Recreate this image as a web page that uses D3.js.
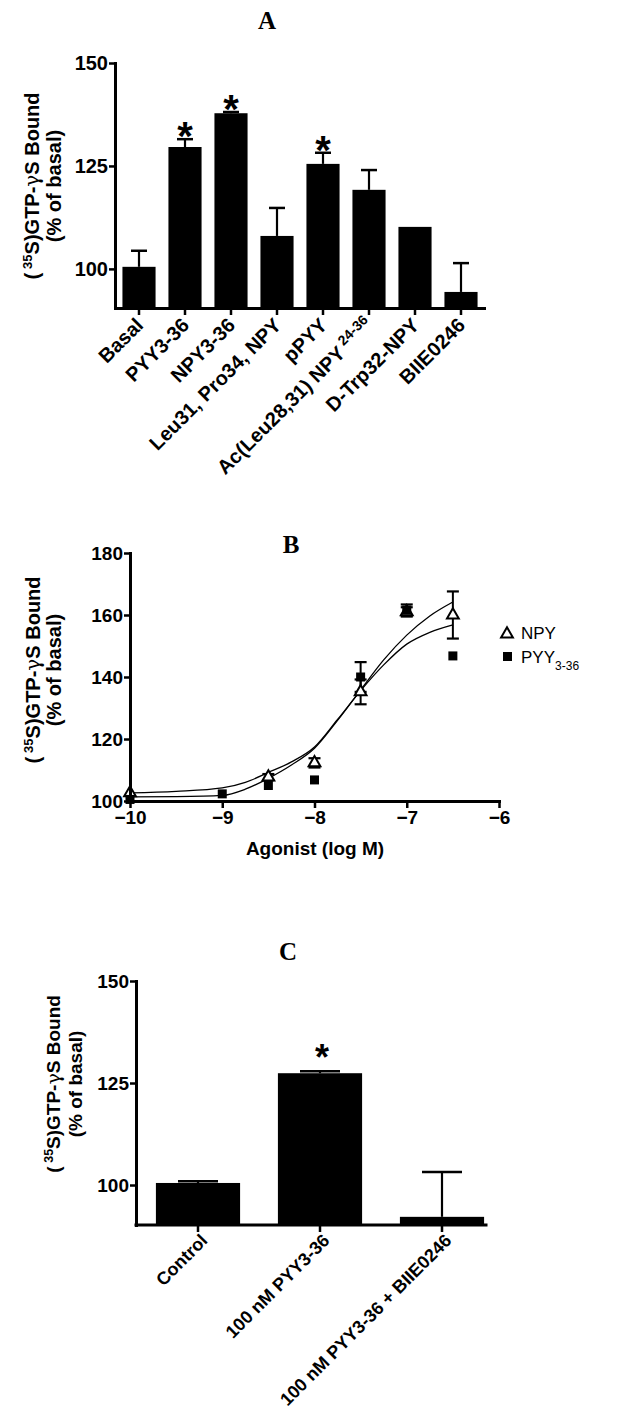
<!DOCTYPE html>
<html><head><meta charset="utf-8">
<script src="https://cdn.jsdelivr.net/npm/d3@7"></script>
<style>
html,body{margin:0;padding:0;background:#fff;}
svg{display:block;}
text{font-family:"Liberation Sans",Arial,sans-serif;font-weight:bold;fill:#000;}
</style></head>
<body>
<svg id="chart" width="619" height="1424"></svg>
<script>
// ---------- Panel A data ----------
const aCategories = ["Basal","PYY3-36","NPY3-36","Leu31, Pro34, NPY","pPYY","Ac(Leu28,31) NPY","D-Trp32-NPY","BIIE0246"];
const aValues = [100.5, 129.6, 137.8, 108.0, 125.5, 119.2, 110.2, 94.4];
const aErrors = [3.9, 1.9, 0.3, 6.8, 2.7, 4.8, 0, 7.0];
const aSignificant = [false, true, true, false, true, false, false, false];
const aTicks = [100, 125, 150];

// ---------- Panel B data ----------
const bTicksX = [-10, -9, -8, -7, -6];
const bTicksY = [100, 120, 140, 160, 180];
const npyX = [-10, -8.5, -8, -7.5, -7, -6.5];
const npyY = [102.6, 107.7, 112.3, 135.2, 161.0, 160.0];
const npyErr = [0.8, 1.0, 1.5, 4.0, 1.5, 7.6];
const pyyX = [-10, -9, -8.5, -8, -7.5, -7, -6.5];
const pyyY = [100.5, 102.3, 105.0, 106.8, 140.0, 161.6, 146.8];
const pyyErr = [0.5, 0.5, 0.6, 0.6, 4.8, 1.8, 0.8];
const fitX = [-10, -9.5, -9, -8.75, -8.5, -8.25, -8, -7.75, -7.5, -7.25, -7, -6.75, -6.5];
const npyFit = [101.3, 101.4, 101.8, 103.8, 107.3, 111.6, 117.0, 126.0, 135.8, 145.5, 153.5, 159.7, 164.2];
const pyyFit = [102.6, 103.1, 104.2, 106.0, 109.2, 112.6, 117.4, 126.3, 135.6, 143.9, 150.6, 154.4, 156.8];

// ---------- Panel C data ----------
const cCategories = ["Control","100 nM PYY3-36","100 nM PYY3-36 + BIIE0246"];
const cValues = [100.5, 127.4, 92.2];
const cErrors = [0.4, 0.5, 11.0];
const cSignificant = [false, true, false];
const cTicks = [100, 125, 150];

const svg = d3.select("#chart");
svg.append("rect").attr("width",619).attr("height",1424).attr("fill","#fff");

function styleAxis(g){
  g.selectAll(".domain").attr("stroke","#000").attr("stroke-width",3).attr("stroke-linecap","square");
  g.selectAll(".tick line").attr("stroke","#000").attr("stroke-width",2.5);
  g.selectAll(".tick text").attr("fill","#000").style("font-family","'Liberation Sans',Arial,sans-serif").style("font-weight","bold");
}
function yTitle(x1, x2, cy, size){
  const t1 = svg.append("text").attr("transform",`translate(${x1},${cy}) rotate(-90)`).attr("text-anchor","middle").style("font-size",size+"px");
  t1.append("tspan").text("(\u2009");
  t1.append("tspan").attr("baseline-shift","super").style("font-size",(size*0.65)+"px").text("35");
  t1.append("tspan").text("S)GTP-");
  t1.append("tspan").style("font-weight","normal").style("font-family","'DejaVu Serif',serif").text("\u03b3");
  t1.append("tspan").text("S Bound");
  svg.append("text").attr("transform",`translate(${x2},${cy}) rotate(-90)`).attr("text-anchor","middle").style("font-size",size+"px").text("(% of basal)");
}
function panelTitle(t,x,y){
  svg.append("text").attr("x",x).attr("y",y).attr("text-anchor","middle")
    .style("font-family","'Liberation Serif','Times New Roman',serif").style("font-size","25px").text(t);
}

// ================= Panel A =================
{
  const x = d3.scaleBand().domain(aCategories).range([116,484]).paddingInner(0.28).paddingOuter(0.14);
  const y = d3.scaleLinear().domain([90.5,150]).range([308,63]);
  panelTitle("A",267,29);
  yTitle(39,61,186,20);
  const bw = x.bandwidth();
  const g = svg.append("g");
  aCategories.forEach((c,i)=>{
    if(aErrors[i]<=0) return;
    const cx = x(c)+bw/2;
    g.append("line").attr("x1",cx).attr("x2",cx).attr("y1",y(aValues[i])).attr("y2",y(aValues[i]+aErrors[i])).attr("stroke","#000").attr("stroke-width",2.2);
    g.append("line").attr("x1",cx-8).attr("x2",cx+8).attr("y1",y(aValues[i]+aErrors[i])).attr("y2",y(aValues[i]+aErrors[i])).attr("stroke","#000").attr("stroke-width",2.5);
  });
  g.selectAll("rect.bar").data(aCategories).join("rect").attr("class","bar")
    .attr("x",d=>x(d)).attr("width",bw)
    .attr("y",(d,i)=>y(aValues[i])).attr("height",(d,i)=>y(90.5)-y(aValues[i])).attr("fill","#000");
  aCategories.forEach((c,i)=>{
    if(!aSignificant[i]) return;
    g.append("text").attr("x",x(c)+bw/2).attr("y",y(aValues[i]+aErrors[i])+11).attr("text-anchor","middle").style("font-size","40px").text("*");
  });
  const ya = svg.append("g").attr("transform","translate(115,0)").call(d3.axisLeft(y).tickValues(aTicks).tickSize(6).tickSizeOuter(0).tickPadding(1));
  ya.selectAll(".tick text").style("font-size","20px");
  styleAxis(ya);
  const xa = svg.append("g").attr("transform","translate(0,308)").call(d3.axisBottom(x).tickSize(7).tickSizeOuter(0));
  styleAxis(xa);
  xa.selectAll(".tick text").remove();
  aCategories.forEach((c,i)=>{
    const t = svg.append("text").attr("transform",`translate(${x(c)+bw/2-3},${318}) rotate(-45)`).attr("text-anchor","end").attr("dy","0.6em").style("font-size","20px");
    t.append("tspan").text(c);
    if(c.startsWith("Ac(")){
      t.append("tspan").attr("baseline-shift","super").style("font-size","14px").text(" 24-36");
    }
  });
}

// ================= Panel B =================
{
  const x = d3.scaleLinear().domain([-10,-6]).range([130,499]);
  const y = d3.scaleLinear().domain([100,180]).range([801,553]);
  panelTitle("B",291,553);
  yTitle(40,61,670,20);
  const line = d3.line().x(d=>x(d[0])).y(d=>y(d[1])).curve(d3.curveMonotoneX);
  svg.append("path").attr("d",line(fitX.map((v,i)=>[v,npyFit[i]]))).attr("fill","none").attr("stroke","#000").attr("stroke-width",1.3);
  svg.append("path").attr("d",line(fitX.map((v,i)=>[v,pyyFit[i]]))).attr("fill","none").attr("stroke","#000").attr("stroke-width",1.3);
  function errBars(xs,ys,es){
    xs.forEach((v,i)=>{
      if(es[i]<1) return;
      const cx=x(v);
      svg.append("line").attr("x1",cx).attr("x2",cx).attr("y1",y(ys[i]-es[i])).attr("y2",y(ys[i]+es[i])).attr("stroke","#000").attr("stroke-width",2);
      [ys[i]-es[i],ys[i]+es[i]].forEach(e=>svg.append("line").attr("x1",cx-6).attr("x2",cx+6).attr("y1",y(e)).attr("y2",y(e)).attr("stroke","#000").attr("stroke-width",2.2));
    });
  }
  errBars(npyX,npyY,npyErr);
  errBars(pyyX,pyyY,pyyErr);
  const tri = d3.symbol().type(d3.symbolTriangle).size(60);
  svg.selectAll("path.npy").data(npyX).join("path").attr("class","npy").attr("d",tri)
    .attr("transform",(d,i)=>`translate(${x(d)},${y(npyY[i])})`).attr("fill","#fff").attr("stroke","#000").attr("stroke-width",2);
  svg.selectAll("rect.pyy").data(pyyX).join("rect").attr("class","pyy")
    .attr("x",d=>x(d)-4.5).attr("y",(d,i)=>y(pyyY[i])-4.5).attr("width",9).attr("height",9).attr("fill","#000");
  const ya = svg.append("g").attr("transform","translate(130,0)").call(d3.axisLeft(y).tickValues(bTicksY).tickSize(6).tickSizeOuter(0).tickPadding(1));
  ya.selectAll(".tick text").style("font-size","19px");
  styleAxis(ya);
  const xa = svg.append("g").attr("transform","translate(0,801)").call(d3.axisBottom(x).tickValues(bTicksX).tickSize(7).tickSizeOuter(0).tickFormat(d3.format("d")).tickPadding(3));
  xa.selectAll(".tick text").style("font-size","19px");
  styleAxis(xa);
  svg.append("text").attr("x",315).attr("y",855).attr("text-anchor","middle").style("font-size","19px").text("Agonist (log M)");
  // legend
  svg.append("path").attr("d",tri).attr("transform","translate(507,634)").attr("fill","#fff").attr("stroke","#000").attr("stroke-width",2);
  svg.append("rect").attr("x",503).attr("y",652).attr("width",9).attr("height",9).attr("fill","#000");
  svg.append("text").attr("x",521).attr("y",639).style("font-weight","normal").style("font-size","17px").text("NPY");
  const lt = svg.append("text").attr("x",521).attr("y",663).style("font-weight","normal").style("font-size","17px");
  lt.append("tspan").text("PYY");
  lt.append("tspan").attr("baseline-shift","sub").style("font-size","12px").text("3-36");
}

// ================= Panel C =================
{
  const x = d3.scaleBand().domain(cCategories).range([137,503]).paddingInner(0.31).paddingOuter(0.155);
  const y = d3.scaleLinear().domain([90.2,150]).range([1225,981]);
  panelTitle("C",288,960);
  yTitle(60,82,1084,19);
  const bw = x.bandwidth();
  cCategories.forEach((c,i)=>{
    if(cErrors[i]<=0) return;
    const cx = x(c)+bw/2;
    svg.append("line").attr("x1",cx).attr("x2",cx).attr("y1",y(cValues[i])).attr("y2",y(cValues[i]+cErrors[i])).attr("stroke","#000").attr("stroke-width",2.2);
    svg.append("line").attr("x1",cx-20).attr("x2",cx+20).attr("y1",y(cValues[i]+cErrors[i])).attr("y2",y(cValues[i]+cErrors[i])).attr("stroke","#000").attr("stroke-width",2.5);
  });
  svg.selectAll("rect.cbar").data(cCategories).join("rect").attr("class","cbar")
    .attr("x",d=>x(d)).attr("width",bw)
    .attr("y",(d,i)=>y(cValues[i])).attr("height",(d,i)=>y(90.2)-y(cValues[i])).attr("fill","#000");
  cCategories.forEach((c,i)=>{
    if(!cSignificant[i]) return;
    svg.append("text").attr("x",x(c)+bw/2+2).attr("y",y(cValues[i]+cErrors[i])-1).attr("text-anchor","middle").style("font-size","36px").text("*");
  });
  const ya = svg.append("g").attr("transform","translate(136,0)").call(d3.axisLeft(y).tickValues(cTicks).tickSize(6).tickSizeOuter(0).tickPadding(1));
  ya.selectAll(".tick text").style("font-size","19px");
  styleAxis(ya);
  const xa = svg.append("g").attr("transform","translate(0,1225)").call(d3.axisBottom(x).tickSize(7).tickSizeOuter(0));
  styleAxis(xa);
  xa.select(".domain").attr("d","M136,0H486");
  xa.selectAll(".tick text").remove();
  cCategories.forEach((c,i)=>{
    svg.append("text").attr("transform",`translate(${x(c)+bw/2+3},${1234}) rotate(-45)`).attr("text-anchor","end").attr("dy","0.6em").style("font-size","18px").text(c);
  });
}
</script>
</body></html>
